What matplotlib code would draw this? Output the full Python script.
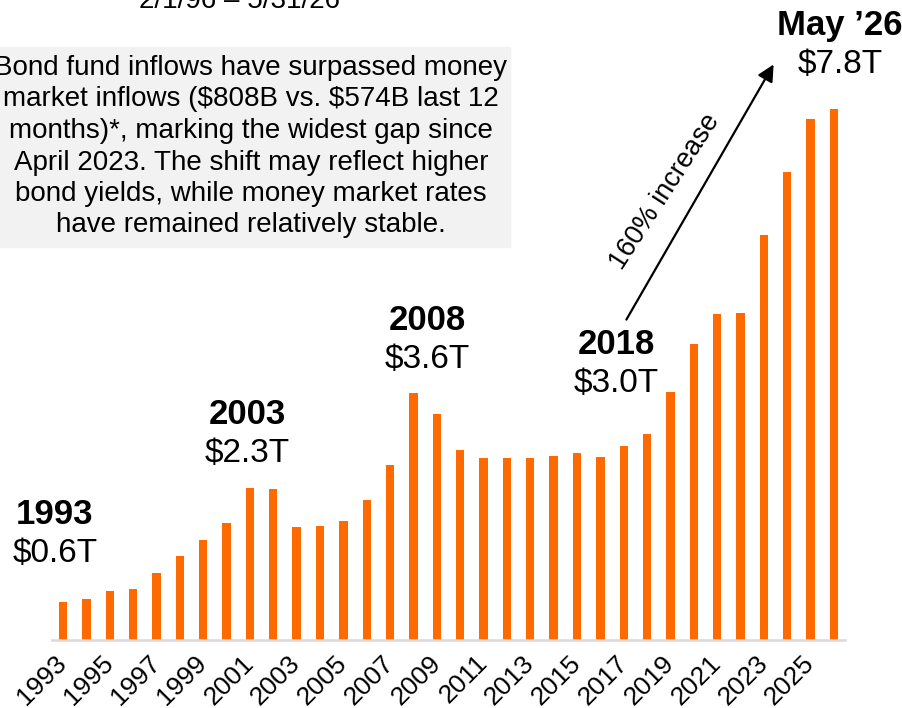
import numpy as np
import matplotlib
matplotlib.use('Agg')
import matplotlib.pyplot as plt
from matplotlib.patches import Rectangle, FancyArrowPatch

# DATA (trillions USD, year-end, last bar = May 2026)
years = list(range(1993, 2027))
assets = [0.55, 0.60, 0.71, 0.74, 0.98, 1.22, 1.46, 1.71, 2.22, 2.20,
          1.65, 1.66, 1.73, 2.04, 2.55, 3.60, 3.29, 2.77, 2.65, 2.65,
          2.65, 2.68, 2.73, 2.67, 2.83, 3.00, 3.62, 4.31, 4.75, 4.77,
          5.90, 6.82, 7.59, 7.74]
tick_years = [str(y) for y in years[::2]]

callout_years = ['1993', '2003', '2008', '2018', 'May \u201926']
callout_values = ['$0.6T', '$2.3T', '$3.6T', '$3.0T', '$7.8T']

note_lines = ['Bond fund inflows have surpassed money',
              'market inflows ($808B vs. $574B last 12',
              'months)*, marking the widest gap since',
              'April 2023. The shift may reflect higher',
              'bond yields, while money market rates',
              'have remained relatively stable.']
date_range = '2/1/96 \u2013 5/31/26'

plt.rcParams['font.family'] = ['Liberation Sans', 'DejaVu Sans']
plt.rcParams['text.parse_math'] = False

W, H = 902, 708
fig = plt.figure(figsize=(W / 100, H / 100), dpi=100)


def fx(px):
    return px / W


def fy(py):
    return 1 - py / H


# axes: baseline at y=640 px, axis line from 52 to 845 px
px_per_unit = 68.6
ax = fig.add_axes([fx(52), fy(640), fx(845) - fx(52), 640 / H])
x = np.arange(len(years))
ax.bar(x, assets, width=0.36, color='#ff6a00')
ax.set_xlim(-0.47, len(years) - 1 + 0.47)
ax.set_ylim(0, 640 / px_per_unit)

for s in ['top', 'right', 'left']:
    ax.spines[s].set_visible(False)
ax.spines['bottom'].set_color('#d9d9d9')
ax.spines['bottom'].set_linewidth(1.8)
ax.set_yticks([])
ax.set_xticks(x[::2])
ax.set_xticklabels(tick_years, rotation=45, ha='right', va='center',
                   rotation_mode='anchor', fontsize=19)
ax.tick_params(axis='x', length=0, pad=14)

# grey note box
fig.patches.append(Rectangle((fx(-20), fy(247)), fx(530), 200 / H,
                             transform=fig.transFigure, color='#f2f2f2', zorder=0))
for i, line in enumerate(note_lines):
    fig.text(fx(251), fy(75 + i * 31.5), line, ha='center', va='baseline', fontsize=20)

fig.text(fx(240), fy(8), date_range, ha='center', va='baseline', fontsize=20)

# callouts
cx = [55, 247, 427, 616, 840]
cy = [524, 424, 330, 354, 35]
for xx, yy, yr, val in zip(cx, cy, callout_years, callout_values):
    fig.text(fx(xx), fy(yy), yr, ha='center', va='baseline', fontsize=25, fontweight='bold')
    fig.text(fx(xx), fy(yy + 38), val, ha='center', va='baseline', fontsize=24)

# growth arrow
fig.add_artist(FancyArrowPatch(
    (fx(625), fy(322)), (fx(775), fy(62)), transform=fig.transFigure,
    arrowstyle='-|>,head_length=10,head_width=5', color='black', lw=1.6))
fig.text(fx(665), fy(192), '160% increase', ha='center', va='center',
         rotation=57, rotation_mode='anchor', fontsize=19.5)

fig.savefig('out.png', dpi=100)
